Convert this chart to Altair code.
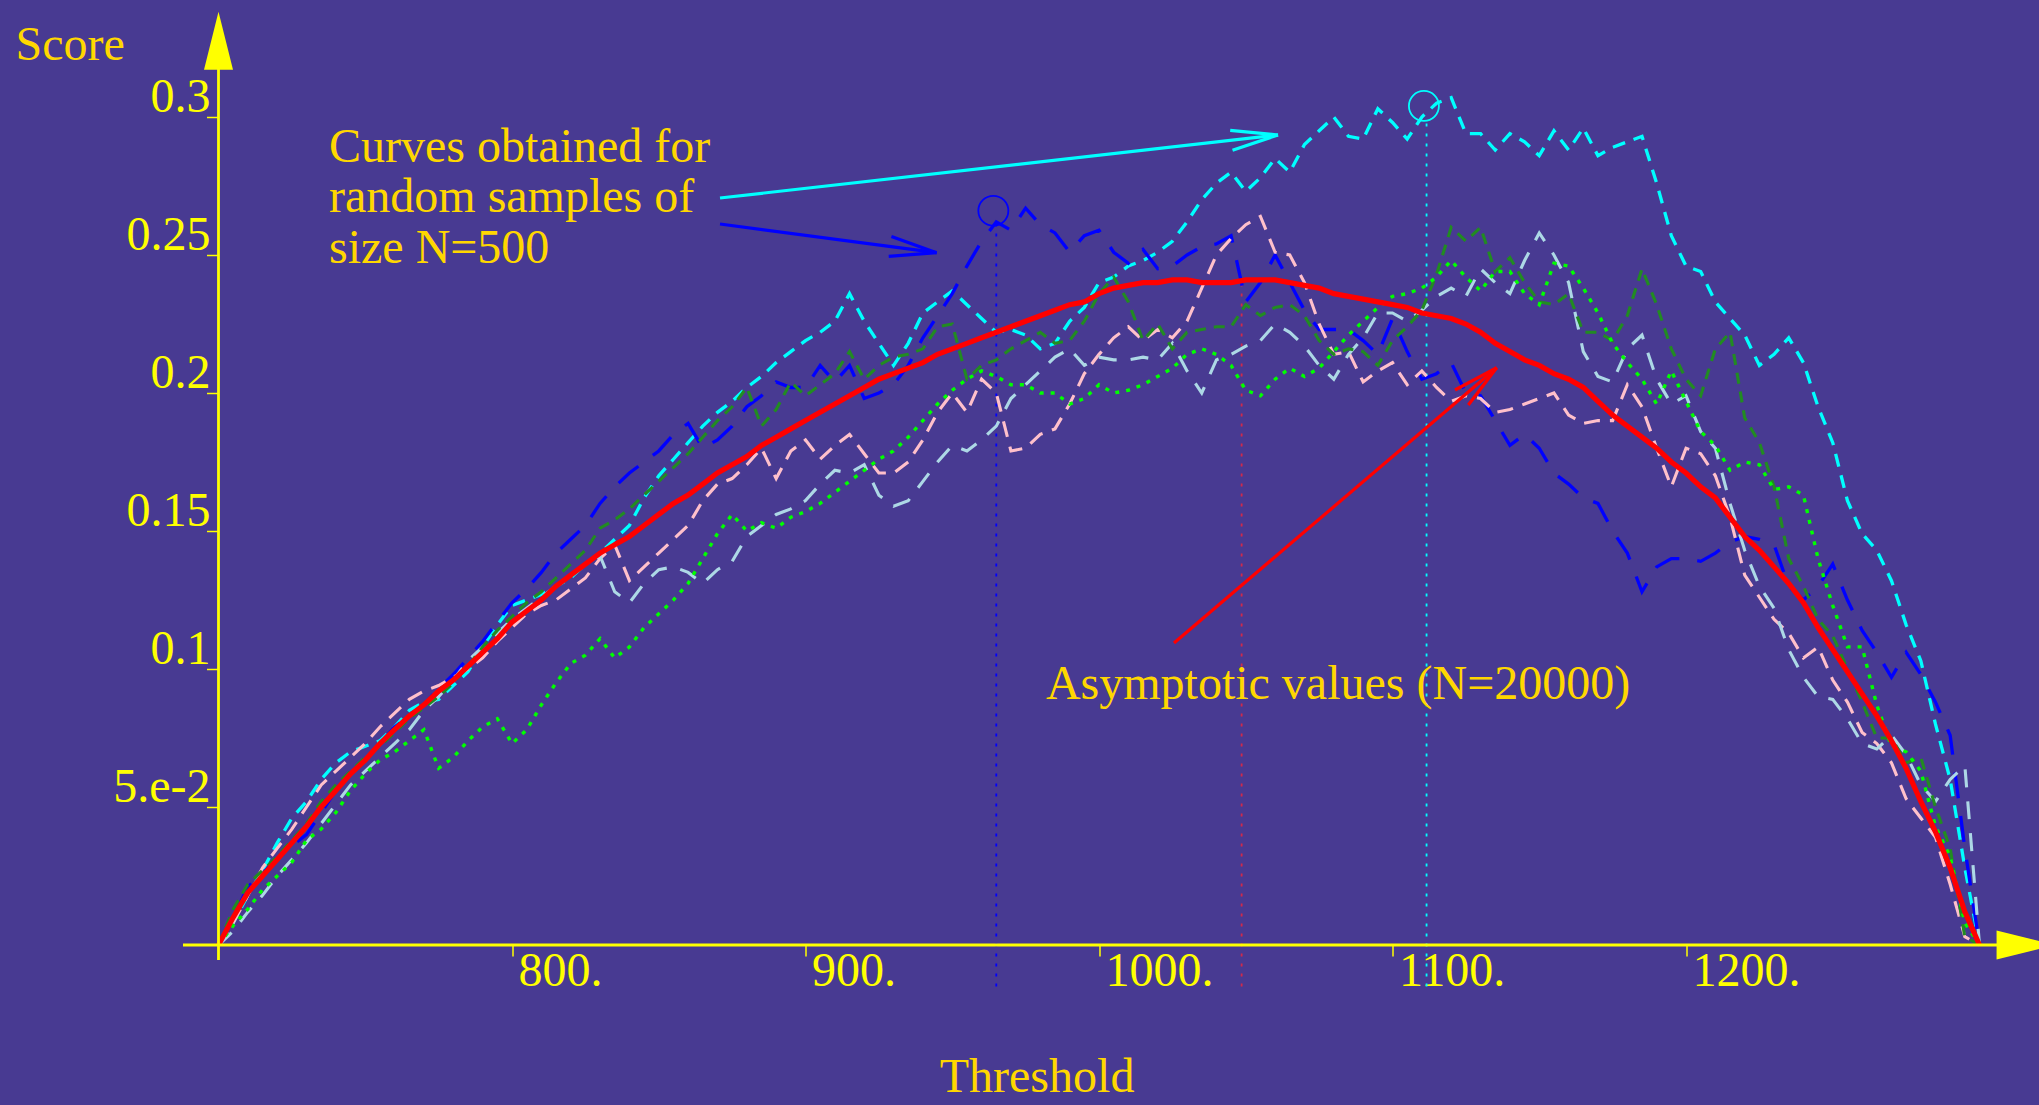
import altair as alt
import pandas as pd

# ---------------- data ----------------
THRESHOLD = list(range(700, 1305, 5))

ASYMPTOTIC = [
    0.000, 0.010, 0.019, 0.025, 0.031, 0.037, 0.043, 0.050, 0.056, 0.062,
    0.067, 0.073, 0.078, 0.083, 0.087, 0.092, 0.096, 0.101, 0.106, 0.111,
    0.117, 0.121, 0.125, 0.130, 0.134, 0.138, 0.142, 0.145, 0.148, 0.152,
    0.156, 0.160, 0.163, 0.167, 0.171, 0.174, 0.177, 0.181, 0.184, 0.187,
    0.190, 0.193, 0.196, 0.199, 0.202, 0.205, 0.207, 0.209, 0.211, 0.214,
    0.216, 0.218, 0.220, 0.222, 0.224, 0.226, 0.228, 0.230, 0.232, 0.233,
    0.236, 0.238, 0.239, 0.240, 0.240, 0.241, 0.241, 0.240, 0.240, 0.240,
    0.241, 0.241, 0.241, 0.240, 0.239, 0.238, 0.236, 0.235, 0.234, 0.233,
    0.232, 0.231, 0.229, 0.228, 0.227, 0.225, 0.222, 0.218, 0.215, 0.212,
    0.210, 0.207, 0.205, 0.202, 0.197, 0.192, 0.188, 0.184, 0.180, 0.175,
    0.171, 0.166, 0.162, 0.155, 0.148, 0.143, 0.137, 0.131, 0.124, 0.115,
    0.107, 0.099, 0.091, 0.083, 0.074, 0.064, 0.052, 0.041, 0.028, 0.012,
    0.000,
]

SAMPLE_CYAN = [
    0.000, 0.008, 0.018, 0.027, 0.037, 0.046, 0.052, 0.060, 0.066, 0.070,
    0.072, 0.074, 0.079, 0.085, 0.088, 0.089, 0.094, 0.099, 0.108, 0.116,
    0.123, 0.125, 0.127, 0.130, 0.133, 0.138, 0.142, 0.147, 0.152, 0.162,
    0.170, 0.176, 0.182, 0.188, 0.193, 0.197, 0.202, 0.206, 0.211, 0.215,
    0.219, 0.222, 0.226, 0.236, 0.226, 0.218, 0.210, 0.218, 0.229, 0.233,
    0.237, 0.232, 0.227, 0.222, 0.223, 0.221, 0.216, 0.218, 0.226, 0.231,
    0.240, 0.242, 0.246, 0.248, 0.251, 0.255, 0.262, 0.270, 0.276, 0.280,
    0.273, 0.278, 0.285, 0.280, 0.290, 0.295, 0.300, 0.293, 0.292, 0.303,
    0.298, 0.292, 0.300, 0.305, 0.307, 0.294, 0.294, 0.288, 0.294, 0.291,
    0.286, 0.295, 0.288, 0.296, 0.286, 0.289, 0.291, 0.293, 0.276, 0.257,
    0.246, 0.244, 0.233, 0.227, 0.221, 0.210, 0.214, 0.220, 0.211, 0.195,
    0.182, 0.161, 0.149, 0.143, 0.132, 0.116, 0.103, 0.080, 0.060, 0.028,
    0.000,
]

SAMPLE_BLUE = [
    0.000, 0.010, 0.021, 0.026, 0.031, 0.036, 0.040, 0.048, 0.056, 0.062,
    0.067, 0.073, 0.079, 0.083, 0.087, 0.093, 0.098, 0.104, 0.110, 0.117,
    0.124, 0.129, 0.135, 0.142, 0.147, 0.152, 0.160, 0.166, 0.171, 0.175,
    0.179, 0.185, 0.189, 0.180, 0.183, 0.188, 0.195, 0.199, 0.204, 0.202,
    0.202, 0.210, 0.204, 0.210, 0.198, 0.200, 0.203, 0.210, 0.220, 0.228,
    0.236, 0.246, 0.255, 0.262, 0.259, 0.267, 0.261, 0.258, 0.251, 0.257,
    0.259, 0.251, 0.247, 0.252, 0.245, 0.246, 0.250, 0.253, 0.254, 0.257,
    0.233, 0.240, 0.250, 0.240, 0.230, 0.223, 0.223, 0.223, 0.219, 0.214,
    0.227, 0.215, 0.205, 0.207, 0.211, 0.200, 0.199, 0.190, 0.181, 0.185,
    0.180, 0.171, 0.167, 0.162, 0.160, 0.150, 0.142, 0.128, 0.137, 0.140,
    0.140, 0.139, 0.142, 0.146, 0.148, 0.147, 0.145, 0.130, 0.125, 0.130,
    0.138, 0.125, 0.114, 0.106, 0.097, 0.106, 0.098, 0.088, 0.076, 0.035,
    0.000,
]

SAMPLE_PINK = [
    0.000, 0.008, 0.018, 0.028, 0.035, 0.042, 0.050, 0.058, 0.063, 0.068,
    0.073, 0.079, 0.084, 0.089, 0.092, 0.094, 0.097, 0.100, 0.104, 0.110,
    0.115, 0.120, 0.123, 0.125, 0.129, 0.133, 0.140, 0.145, 0.132, 0.137,
    0.142, 0.147, 0.152, 0.161, 0.167, 0.169, 0.174, 0.180, 0.169, 0.179,
    0.183, 0.176, 0.181, 0.185, 0.178, 0.171, 0.171, 0.175, 0.183, 0.193,
    0.200, 0.193, 0.205, 0.200, 0.179, 0.180, 0.185, 0.187, 0.196, 0.207,
    0.214, 0.220, 0.224, 0.219, 0.223, 0.220, 0.226, 0.238, 0.250, 0.256,
    0.261, 0.264, 0.251, 0.250, 0.240, 0.225, 0.214, 0.215, 0.204, 0.208,
    0.211, 0.203, 0.208, 0.202, 0.197, 0.199, 0.198, 0.193, 0.194, 0.196,
    0.198, 0.200, 0.192, 0.189, 0.190, 0.190, 0.203, 0.195, 0.180, 0.166,
    0.180, 0.178, 0.170, 0.155, 0.134, 0.126, 0.118, 0.113, 0.104, 0.108,
    0.096, 0.088, 0.077, 0.073, 0.066, 0.053, 0.046, 0.039, 0.022, 0.003,
    0.000,
]

SAMPLE_LIGHTBLUE = [
    0.000, 0.005, 0.012, 0.018, 0.025, 0.031, 0.037, 0.044, 0.051, 0.058,
    0.063, 0.068, 0.073, 0.078, 0.085, 0.090, 0.096, 0.103, 0.108, 0.113,
    0.118, 0.122, 0.126, 0.130, 0.134, 0.138, 0.141, 0.128, 0.124, 0.131,
    0.136, 0.137, 0.135, 0.131, 0.136, 0.139, 0.148, 0.152, 0.156, 0.158,
    0.161, 0.167, 0.172, 0.171, 0.174, 0.163, 0.159, 0.161, 0.168, 0.175,
    0.181, 0.179, 0.183, 0.188, 0.198, 0.203, 0.208, 0.213, 0.216, 0.210,
    0.213, 0.212, 0.212, 0.213, 0.212, 0.218, 0.208, 0.200, 0.212, 0.214,
    0.217, 0.219, 0.225, 0.222, 0.217, 0.210, 0.205, 0.214, 0.220, 0.229,
    0.229, 0.226, 0.230, 0.235, 0.238, 0.235, 0.245, 0.240, 0.236, 0.248,
    0.258, 0.250, 0.240, 0.215, 0.206, 0.204, 0.216, 0.221, 0.205, 0.196,
    0.199, 0.186, 0.180, 0.160, 0.143, 0.130, 0.122, 0.107, 0.097, 0.090,
    0.089, 0.082, 0.073, 0.071, 0.076, 0.069, 0.058, 0.052, 0.060, 0.065,
    0.000,
]

SAMPLE_DARKGREEN = [
    0.000, 0.013, 0.022, 0.027, 0.032, 0.038, 0.044, 0.052, 0.058, 0.063,
    0.068, 0.072, 0.077, 0.082, 0.086, 0.090, 0.095, 0.101, 0.108, 0.114,
    0.119, 0.124, 0.128, 0.133, 0.138, 0.143, 0.151, 0.154, 0.158, 0.163,
    0.168, 0.173, 0.178, 0.184, 0.190, 0.195, 0.202, 0.188, 0.194, 0.204,
    0.199, 0.203, 0.207, 0.215, 0.205, 0.210, 0.213, 0.214, 0.216, 0.224,
    0.225, 0.205, 0.210, 0.212, 0.216, 0.219, 0.222, 0.218, 0.219, 0.226,
    0.236, 0.242, 0.233, 0.219, 0.225, 0.216, 0.222, 0.223, 0.224, 0.224,
    0.232, 0.228, 0.231, 0.232, 0.228, 0.219, 0.214, 0.216, 0.215, 0.210,
    0.219, 0.224, 0.230, 0.243, 0.260, 0.255, 0.260, 0.244, 0.249, 0.240,
    0.233, 0.232, 0.236, 0.222, 0.222, 0.219, 0.228, 0.245, 0.232, 0.216,
    0.205, 0.199, 0.216, 0.222, 0.191, 0.182, 0.166, 0.140, 0.130, 0.118,
    0.112, 0.100, 0.088, 0.075, 0.075, 0.066, 0.068, 0.050, 0.035, 0.003,
    0.000,
]

SAMPLE_LIME = [
    0.000, 0.007, 0.013, 0.020, 0.025, 0.030, 0.038, 0.042, 0.048, 0.056,
    0.062, 0.067, 0.070, 0.074, 0.078, 0.064, 0.068, 0.074, 0.079, 0.082,
    0.073, 0.078, 0.087, 0.095, 0.102, 0.105, 0.111, 0.104, 0.108, 0.115,
    0.120, 0.125, 0.131, 0.140, 0.149, 0.156, 0.150, 0.153, 0.151, 0.155,
    0.157, 0.160, 0.164, 0.168, 0.172, 0.176, 0.179, 0.184, 0.190, 0.196,
    0.201, 0.205, 0.208, 0.206, 0.203, 0.203, 0.200, 0.200, 0.196, 0.198,
    0.203, 0.200, 0.201, 0.203, 0.206, 0.209, 0.214, 0.216, 0.214, 0.210,
    0.201, 0.199, 0.205, 0.209, 0.206, 0.209, 0.215, 0.221, 0.226, 0.231,
    0.235, 0.236, 0.238, 0.242, 0.248, 0.242, 0.237, 0.244, 0.244, 0.236,
    0.232, 0.247, 0.246, 0.238, 0.229, 0.218, 0.211, 0.205, 0.196, 0.208,
    0.197, 0.186, 0.181, 0.172, 0.175, 0.174, 0.165, 0.166, 0.163, 0.140,
    0.123, 0.108, 0.108, 0.087, 0.072, 0.070, 0.063, 0.043, 0.032, 0.008,
    0.000,
]

X_TICKS = [800, 900, 1000, 1100, 1200]
X_TICK_LABELS = ["800.", "900.", "1000.", "1100.", "1200."]
Y_TICKS = [0.05, 0.1, 0.15, 0.2, 0.25, 0.3]
Y_TICK_LABELS = ["5.e-2", "0.1", "0.15", "0.2", "0.25", "0.3"]

# optimum markers (vertical dotted lines and circles)
MARK_X = [965.0, 1111.6, 1048.6]
MARK_TOP = [0.2606, 0.2986, 0.2410]
MARK_BOTTOM = [-0.0150, -0.0150, -0.0150]
MARK_COLORS = ["#0000FF", "#00FFFF", "#D02A4C"]
CIRCLE_X = [964.0, 1110.7]
CIRCLE_Y = [0.266, 0.304]
CIRCLE_COLORS = ["#0000FF", "#00FFFF"]

# annotation arrows: (x, y, x2, y2) segments
CYAN_ARROW = [(870.87, 0.27065, 1060.99, 0.29348),
              (1060.99, 0.29348, 1044.70, 0.29516),
              (1060.99, 0.29348, 1045.49, 0.28797)]
BLUE_ARROW = [(870.87, 0.26123, 944.67, 0.25083),
              (944.67, 0.25083, 929.27, 0.25667),
              (944.67, 0.25083, 928.35, 0.24949)]
RED_ARROW = [(1025.55, 0.10942, 1135.50, 0.20917),
             (1135.50, 0.20917, 1121.29, 0.20109),
             (1135.50, 0.20917, 1125.83, 0.19565)]

CURVES_TEXT = ["Curves obtained for", "random samples of", "size N=500"]
CURVES_TEXT_X = [737.65, 737.65, 737.65]
CURVES_TEXT_Y = [0.2838, 0.2656, 0.2471]
ASYM_TEXT = ["Asymptotic values (N=20000)"]
ASYM_TEXT_X = [981.9]
ASYM_TEXT_Y = [0.0891]

# ---------------- styling ----------------
BG = "#483A92"
YELLOW = "#FFFF00"
GOLD = "#FFD700"
FONT = "Liberation Serif"

XS = alt.Scale(domain=[700, 1320.27], nice=False, zero=False)
YS = alt.Scale(domain=[0, 0.342391], nice=False, zero=False)


def label_expr(vals, labels):
    expr = "''"
    for v, l in reversed(list(zip(vals, labels))):
        expr = f"abs(datum.value - {v}) < 1e-9 ? '{l}' : {expr}"
    return expr


XAXIS = alt.Axis(values=X_TICKS, labelExpr=label_expr(X_TICKS, X_TICK_LABELS),
                 title=None, domain=False, grid=False, ticks=True, tickSize=11,
                 tickWidth=1.5, tickColor=YELLOW, labelColor=YELLOW, labelFont=FONT,
                 labelFontSize=48, labelAlign="left", labelBaseline="alphabetic",
                 labelPadding=29, labelOffset=6, labelFlush=False, labelOverlap=False,
                 labelBound=False)
YAXIS = alt.Axis(values=Y_TICKS, labelExpr=label_expr(Y_TICKS, Y_TICK_LABELS),
                 title=None, domain=False, grid=False, ticks=True, tickSize=12,
                 tickWidth=1.5, tickColor=YELLOW, labelColor=YELLOW, labelFont=FONT,
                 labelFontSize=48, labelAlign="right", labelBaseline="alphabetic",
                 labelPadding=-3.5, labelOffset=-5, labelFlush=False, labelOverlap=False,
                 labelBound=False)


def X(field="x"):
    return alt.X(field, type="quantitative", scale=XS, axis=XAXIS)


def Y(field="y"):
    return alt.Y(field, type="quantitative", scale=YS, axis=YAXIS)


def line_layer(values, color, width, dash=None):
    assert len(values) == len(THRESHOLD)
    df = pd.DataFrame({"x": THRESHOLD, "y": values})
    kw = dict(color=color, strokeWidth=width, interpolate="linear")
    if dash:
        kw["strokeDash"] = dash
    return alt.Chart(df).mark_line(**kw).encode(x=X(), y=Y())


def seg_layer(segs, color, width, dash=None):
    df = pd.DataFrame(segs, columns=["x", "y", "x2", "y2"])
    kw = dict(color=color, strokeWidth=width)
    if dash:
        kw["strokeDash"] = dash
    return alt.Chart(df).mark_rule(**kw).encode(x=X(), y=Y(), x2="x2", y2="y2")


def text_layer(texts, xs, ys, color, align="left"):
    df = pd.DataFrame({"x": xs, "y": ys, "t": texts})
    return alt.Chart(df).mark_text(align=align, baseline="alphabetic", font=FONT,
                                   fontSize=48, color=color).encode(x=X(), y=Y(), text="t:N")


layers = []

# vertical dotted optimum markers
for mx, top, bot, c in zip(MARK_X, MARK_TOP, MARK_BOTTOM, MARK_COLORS):
    layers.append(seg_layer([(mx, bot, mx, top)], c, 1.8, [3, 7]))

# sample curves
layers.append(line_layer(SAMPLE_CYAN, "#00FFFF", 3.3, [13, 9]))
layers.append(line_layer(SAMPLE_BLUE, "#0000FF", 3.3, [26, 18]))
layers.append(line_layer(SAMPLE_PINK, "#FFC0CB", 3.1, [16, 10]))
layers.append(line_layer(SAMPLE_LIGHTBLUE, "#ADD8E6", 3.1, [18, 14]))
layers.append(line_layer(SAMPLE_DARKGREEN, "#228B22", 3.1, [11, 8]))
layers.append(line_layer(SAMPLE_LIME, "#00FF00", 3.4, [4, 7]))
# asymptotic curve
layers.append(line_layer(ASYMPTOTIC, "#FF0000", 5.2))

# circles
circ = pd.DataFrame({"x": CIRCLE_X, "y": CIRCLE_Y, "c": CIRCLE_COLORS})
layers.append(alt.Chart(circ).mark_point(shape="circle", filled=False, size=900,
                                         strokeWidth=1.8, opacity=1).encode(
    x=X(), y=Y(), color=alt.Color("c:N", scale=None)))

# annotation arrows
layers.append(seg_layer(CYAN_ARROW, "#00FFFF", 3.2))
layers.append(seg_layer(BLUE_ARROW, "#0000FF", 3.2))
layers.append(seg_layer(RED_ARROW, "#FF0000", 3.2))

# axis lines
layers.append(seg_layer([(700, -0.00543, 700, 0.3178), (687.9, 0.0, 1306.0, 0.0)], YELLOW, 2.8))
# arrowheads
up = pd.DataFrame({"x": [700.0], "y": [0.3276]})
layers.append(alt.Chart(up).mark_point(shape="M0,-1L0.5,1L-0.5,1Z", filled=True, size=3364,
                                       opacity=1, color=YELLOW, strokeWidth=0).encode(x=X(), y=Y()))
right = pd.DataFrame({"x": [1315.7], "y": [0.0]})
layers.append(alt.Chart(right).mark_point(shape="M1,0L-1,-0.5L-1,0.5Z", filled=True, size=3364,
                                          opacity=1, color=YELLOW, strokeWidth=0).encode(x=X(), y=Y()))

# texts
layers.append(text_layer(CURVES_TEXT, CURVES_TEXT_X, CURVES_TEXT_Y, GOLD))
layers.append(text_layer(ASYM_TEXT, ASYM_TEXT_X, ASYM_TEXT_Y, GOLD))
layers.append(text_layer(["Score"], [630.87], [0.3207], GOLD))
layers.append(text_layer(["Threshold"], [978.9], [-0.0533], GOLD, align="center"))

chart = alt.layer(*layers).properties(
    width=1820.5, height=945,
    padding={"left": 218.5, "top": 0, "right": 0, "bottom": 160},
    autosize=alt.AutoSizeParams(type="none"),
    background=BG,
).configure_view(stroke=None)

chart.save("out.html", embed_options={"renderer": "svg", "actions": False})
